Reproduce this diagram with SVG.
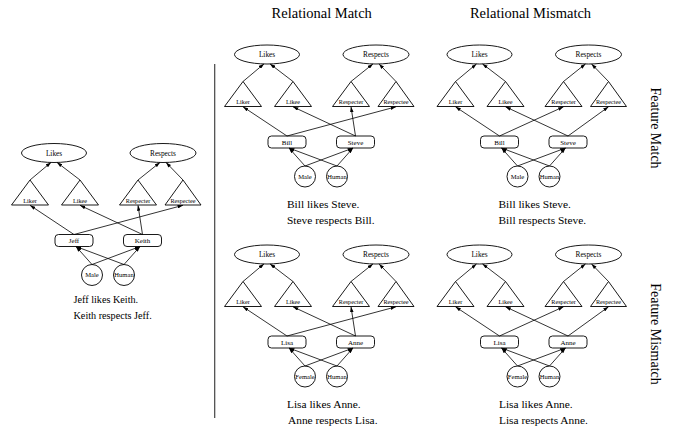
<svg xmlns="http://www.w3.org/2000/svg" width="675" height="429" viewBox="0 0 675 429">
<style>
text { font-family: "Liberation Serif", "Times New Roman", serif; fill: #000; }
.node ellipse, .node polygon, .node rect, .node circle { fill: #fff; stroke: #000; stroke-width: 0.9; }
.el { font-size: 7.3px; text-anchor: middle; }
.tl { font-size: 6.2px; text-anchor: middle; }
.rl { font-size: 7px; text-anchor: middle; }
.cl { font-size: 6.6px; text-anchor: middle; }
.cap { font-size: 11.4px; }
.lcap { font-size: 10.2px; }
.hdr { font-size: 14.5px; text-anchor: middle; }
.side { font-size: 14px; text-anchor: middle; }
.conn path { fill: none; stroke: #000; stroke-width: 0.8; marker-end: url(#ah); }
</style>
<defs>
<marker id="ah" viewBox="0 0 6 4" refX="6" refY="2" markerWidth="5.5" markerHeight="3.6" markerUnits="userSpaceOnUse" orient="auto">
<path d="M0,0 L6,2 L0,4 z" fill="#000"/>
</marker>
</defs>
<rect width="675" height="429" fill="#fff"/>

<text class="hdr" x="321.7" y="18">Relational Match</text>
<text class="hdr" x="530.5" y="18">Relational Mismatch</text>
<text class="side" transform="translate(651,128) rotate(90)">Feature Match</text>
<text class="side" transform="translate(651,334) rotate(90)">Feature Mismatch</text>
<line x1="214.7" y1="64" x2="214.7" y2="418" stroke="#444" stroke-width="1.2"/>

<!-- Left diagram -->
<g transform="translate(54,153)">
<g id="L-likes" class="node"><ellipse cx="0" cy="0" rx="32.5" ry="9.5"/><text class="el" x="0" y="2.6">Likes</text></g>
<g id="L-respects" class="node"><ellipse cx="109" cy="0" rx="33" ry="9.5"/><text class="el" x="109" y="2.6">Respects</text></g>
<g id="L-liker" class="node"><polygon points="-24,27 -42.5,52 -5.5,52"/><text class="tl" x="-24" y="49.5">Liker</text></g>
<g id="L-likee" class="node"><polygon points="26,27 7.5,52 44.5,52"/><text class="tl" x="26" y="49.5">Likee</text></g>
<g id="L-respecter" class="node"><polygon points="84,27 65.5,52 102.5,52"/><text class="tl" x="84" y="49.5">Respecter</text></g>
<g id="L-respectee" class="node"><polygon points="129,27 111,52 147,52"/><text class="tl" x="129" y="49.5">Respectee</text></g>
<g id="L-jeff" class="node"><rect x="1" y="81.5" width="38" height="12" rx="3.5"/><text class="rl" x="20" y="90.3">Jeff</text></g>
<g id="L-keith" class="node"><rect x="69.5" y="81.5" width="38" height="12" rx="3.5"/><text class="rl" x="88.5" y="90.3">Keith</text></g>
<g id="L-male" class="node"><circle cx="38" cy="122" r="10.5"/><text class="cl" x="38" y="124.3">Male</text></g>
<g id="L-human" class="node"><circle cx="70" cy="122" r="10.5"/><text class="cl" x="70" y="124.3">Human</text></g>
</g>
<text class="lcap" x="73.5" y="303">Jeff likes Keith.</text>
<text class="lcap" x="73.5" y="318.5">Keith respects Jeff.</text>

<!-- Top middle -->
<g transform="translate(267,54.5)">
<g id="TM-likes" class="node"><ellipse cx="0" cy="0" rx="32.5" ry="9.5"/><text class="el" x="0" y="2.6">Likes</text></g>
<g id="TM-respects" class="node"><ellipse cx="109" cy="0" rx="33" ry="9.5"/><text class="el" x="109" y="2.6">Respects</text></g>
<g id="TM-liker" class="node"><polygon points="-24,27 -42.5,52 -5.5,52"/><text class="tl" x="-24" y="49.5">Liker</text></g>
<g id="TM-likee" class="node"><polygon points="26,27 7.5,52 44.5,52"/><text class="tl" x="26" y="49.5">Likee</text></g>
<g id="TM-respecter" class="node"><polygon points="84,27 65.5,52 102.5,52"/><text class="tl" x="84" y="49.5">Respecter</text></g>
<g id="TM-respectee" class="node"><polygon points="129,27 111,52 147,52"/><text class="tl" x="129" y="49.5">Respectee</text></g>
<g id="TM-bill" class="node"><rect x="1" y="81.5" width="38" height="12" rx="3.5"/><text class="rl" x="20" y="90.3">Bill</text></g>
<g id="TM-steve" class="node"><rect x="69.5" y="81.5" width="38" height="12" rx="3.5"/><text class="rl" x="88.5" y="90.3">Steve</text></g>
<g id="TM-male" class="node"><circle cx="38" cy="122" r="10.5"/><text class="cl" x="38" y="124.3">Male</text></g>
<g id="TM-human" class="node"><circle cx="70" cy="122" r="10.5"/><text class="cl" x="70" y="124.3">Human</text></g>
</g>
<text class="cap" x="287" y="208.3">Bill likes Steve.</text>
<text class="cap" x="287" y="224">Steve respects Bill.</text>

<!-- Top right -->
<g transform="translate(479.5,54.5)">
<g id="TR-likes" class="node"><ellipse cx="0" cy="0" rx="32.5" ry="9.5"/><text class="el" x="0" y="2.6">Likes</text></g>
<g id="TR-respects" class="node"><ellipse cx="109" cy="0" rx="33" ry="9.5"/><text class="el" x="109" y="2.6">Respects</text></g>
<g id="TR-liker" class="node"><polygon points="-24,27 -42.5,52 -5.5,52"/><text class="tl" x="-24" y="49.5">Liker</text></g>
<g id="TR-likee" class="node"><polygon points="26,27 7.5,52 44.5,52"/><text class="tl" x="26" y="49.5">Likee</text></g>
<g id="TR-respecter" class="node"><polygon points="84,27 65.5,52 102.5,52"/><text class="tl" x="84" y="49.5">Respecter</text></g>
<g id="TR-respectee" class="node"><polygon points="129,27 111,52 147,52"/><text class="tl" x="129" y="49.5">Respectee</text></g>
<g id="TR-bill" class="node"><rect x="1" y="81.5" width="38" height="12" rx="3.5"/><text class="rl" x="20" y="90.3">Bill</text></g>
<g id="TR-steve" class="node"><rect x="69.5" y="81.5" width="38" height="12" rx="3.5"/><text class="rl" x="88.5" y="90.3">Steve</text></g>
<g id="TR-male" class="node"><circle cx="38" cy="122" r="10.5"/><text class="cl" x="38" y="124.3">Male</text></g>
<g id="TR-human" class="node"><circle cx="70" cy="122" r="10.5"/><text class="cl" x="70" y="124.3">Human</text></g>
</g>
<text class="cap" x="498.5" y="208.3">Bill likes Steve.</text>
<text class="cap" x="498.5" y="224">Bill respects Steve.</text>

<!-- Bottom middle -->
<g transform="translate(267,254.5)">
<g id="BM-likes" class="node"><ellipse cx="0" cy="0" rx="32.5" ry="9.5"/><text class="el" x="0" y="2.6">Likes</text></g>
<g id="BM-respects" class="node"><ellipse cx="109" cy="0" rx="33" ry="9.5"/><text class="el" x="109" y="2.6">Respects</text></g>
<g id="BM-liker" class="node"><polygon points="-24,27 -42.5,52 -5.5,52"/><text class="tl" x="-24" y="49.5">Liker</text></g>
<g id="BM-likee" class="node"><polygon points="26,27 7.5,52 44.5,52"/><text class="tl" x="26" y="49.5">Likee</text></g>
<g id="BM-respecter" class="node"><polygon points="84,27 65.5,52 102.5,52"/><text class="tl" x="84" y="49.5">Respecter</text></g>
<g id="BM-respectee" class="node"><polygon points="129,27 111,52 147,52"/><text class="tl" x="129" y="49.5">Respectee</text></g>
<g id="BM-lisa" class="node"><rect x="1" y="81.5" width="38" height="12" rx="3.5"/><text class="rl" x="20" y="90.3">Lisa</text></g>
<g id="BM-anne" class="node"><rect x="69.5" y="81.5" width="38" height="12" rx="3.5"/><text class="rl" x="88.5" y="90.3">Anne</text></g>
<g id="BM-female" class="node"><circle cx="38" cy="122" r="10.5"/><text class="cl" x="38" y="124.3">Female</text></g>
<g id="BM-human" class="node"><circle cx="70" cy="122" r="10.5"/><text class="cl" x="70" y="124.3">Human</text></g>
</g>
<text class="cap" x="287" y="408.3">Lisa likes Anne.</text>
<text class="cap" x="288" y="424">Anne respects Lisa.</text>

<!-- Bottom right -->
<g transform="translate(479.5,254.5)">
<g id="BR-likes" class="node"><ellipse cx="0" cy="0" rx="32.5" ry="9.5"/><text class="el" x="0" y="2.6">Likes</text></g>
<g id="BR-respects" class="node"><ellipse cx="109" cy="0" rx="33" ry="9.5"/><text class="el" x="109" y="2.6">Respects</text></g>
<g id="BR-liker" class="node"><polygon points="-24,27 -42.5,52 -5.5,52"/><text class="tl" x="-24" y="49.5">Liker</text></g>
<g id="BR-likee" class="node"><polygon points="26,27 7.5,52 44.5,52"/><text class="tl" x="26" y="49.5">Likee</text></g>
<g id="BR-respecter" class="node"><polygon points="84,27 65.5,52 102.5,52"/><text class="tl" x="84" y="49.5">Respecter</text></g>
<g id="BR-respectee" class="node"><polygon points="129,27 111,52 147,52"/><text class="tl" x="129" y="49.5">Respectee</text></g>
<g id="BR-lisa" class="node"><rect x="1" y="81.5" width="38" height="12" rx="3.5"/><text class="rl" x="20" y="90.3">Lisa</text></g>
<g id="BR-anne" class="node"><rect x="69.5" y="81.5" width="38" height="12" rx="3.5"/><text class="rl" x="88.5" y="90.3">Anne</text></g>
<g id="BR-female" class="node"><circle cx="38" cy="122" r="10.5"/><text class="cl" x="38" y="124.3">Female</text></g>
<g id="BR-human" class="node"><circle cx="70" cy="122" r="10.5"/><text class="cl" x="70" y="124.3">Human</text></g>
</g>
<text class="cap" x="499" y="408.3">Lisa likes Anne.</text>
<text class="cap" x="499" y="424">Lisa respects Anne.</text>

<!-- Connectors -->
<g id="connectors" class="conn">
<g transform="translate(54,153)">
<path d="M-24,27 L-3,9.4"/><path d="M26,27 L3,9.4"/><path d="M84,27 L106,9.4"/><path d="M129,27 L112,9.4"/>
<path d="M20,81.5 L-24,52.3"/><path d="M20,81.5 L129,52.3"/><path d="M88.5,81.5 L26,52.3"/><path d="M88.5,81.5 L84,52.3"/>
<path d="M38,111.5 L22,93.5"/><path d="M38,111.5 L86,93.5"/><path d="M70,111.5 L22,93.5"/><path d="M70,111.5 L86,93.5"/>
</g>
<g transform="translate(267,54.5)">
<path d="M-24,27 L-3,9.4"/><path d="M26,27 L3,9.4"/><path d="M84,27 L106,9.4"/><path d="M129,27 L112,9.4"/>
<path d="M20,81.5 L-24,52.3"/><path d="M20,81.5 L129,52.3"/><path d="M88.5,81.5 L26,52.3"/><path d="M88.5,81.5 L84,52.3"/>
<path d="M38,111.5 L22,93.5"/><path d="M38,111.5 L86,93.5"/><path d="M70,111.5 L22,93.5"/><path d="M70,111.5 L86,93.5"/>
</g>
<g transform="translate(479.5,54.5)">
<path d="M-24,27 L-3,9.4"/><path d="M26,27 L3,9.4"/><path d="M84,27 L106,9.4"/><path d="M129,27 L112,9.4"/>
<path d="M20,81.5 L-24,52.3"/><path d="M20,81.5 L84,52.3"/><path d="M88.5,81.5 L26,52.3"/><path d="M88.5,81.5 L129,52.3"/>
<path d="M38,111.5 L22,93.5"/><path d="M38,111.5 L86,93.5"/><path d="M70,111.5 L22,93.5"/><path d="M70,111.5 L86,93.5"/>
</g>
<g transform="translate(267,254.5)">
<path d="M-24,27 L-3,9.4"/><path d="M26,27 L3,9.4"/><path d="M84,27 L106,9.4"/><path d="M129,27 L112,9.4"/>
<path d="M20,81.5 L-24,52.3"/><path d="M20,81.5 L129,52.3"/><path d="M88.5,81.5 L26,52.3"/><path d="M88.5,81.5 L84,52.3"/>
<path d="M38,111.5 L22,93.5"/><path d="M38,111.5 L86,93.5"/><path d="M70,111.5 L22,93.5"/><path d="M70,111.5 L86,93.5"/>
</g>
<g transform="translate(479.5,254.5)">
<path d="M-24,27 L-3,9.4"/><path d="M26,27 L3,9.4"/><path d="M84,27 L106,9.4"/><path d="M129,27 L112,9.4"/>
<path d="M20,81.5 L-24,52.3"/><path d="M20,81.5 L84,52.3"/><path d="M88.5,81.5 L26,52.3"/><path d="M88.5,81.5 L129,52.3"/>
<path d="M38,111.5 L22,93.5"/><path d="M38,111.5 L86,93.5"/><path d="M70,111.5 L22,93.5"/><path d="M70,111.5 L86,93.5"/>
</g>
</g>
</svg>
